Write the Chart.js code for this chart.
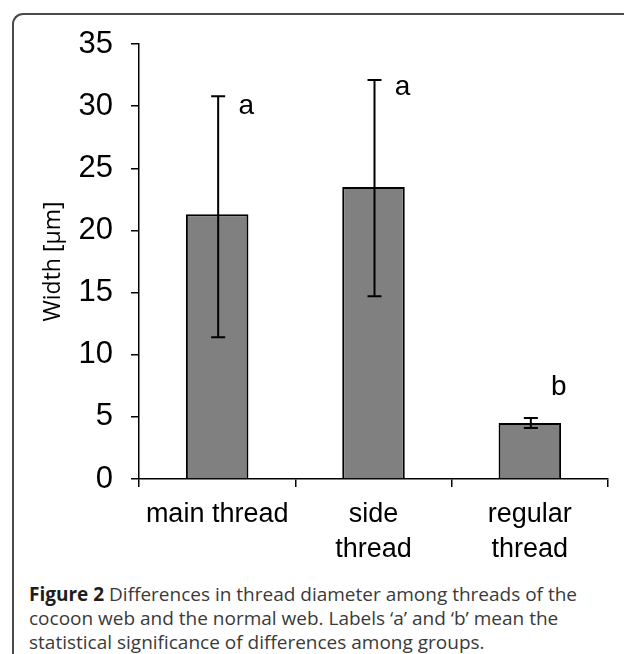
<!DOCTYPE html>
<html>
<head>
<meta charset="utf-8">
<script src="https://cdn.jsdelivr.net/npm/chart.js@4/dist/chart.umd.min.js"></script>
<style>
  html, body { margin: 0; padding: 0; background: #fff; width: 624px; height: 654px; overflow: hidden; }
  #frame { position: absolute; left: 12px; top: 13px; width: 700px; height: 700px;
           border-left: 2px solid #4a4a4a; border-top: 2px solid #4a4a4a; border-top-left-radius: 11px; }
  #wrap { position: absolute; left: 0; top: 0; width: 624px; height: 570px; }
  #cap { position: absolute; left: 29px; top: 582px; font-family: "Open Sans", sans-serif;
         font-size: 19px; line-height: 24px; color: #3a3a3a; white-space: nowrap; }
  #cap b { color: #1e1e1e; }
</style>
</head>
<body>
<div id="frame"></div>
<div id="wrap"><canvas id="c" width="624" height="570"></canvas></div>
<div id="cap"><b>Figure 2</b> Differences in thread diameter among threads of the<br>cocoon web and the normal web. Labels ‘a’ and ‘b’ mean the<br>statistical significance of differences among groups.</div>
<script>
// ---- data ----
const categories = ['main thread', ['side', 'thread'], ['regular', 'thread']];
const meanWidth = [21.3, 23.5, 4.5];
const errLow = [11.4, 14.7, 4.1];
const errHigh = [30.8, 32.1, 4.9];
const sigLetters = ['a', 'a', 'b'];
const letterY = [30.0, 31.5, 7.4];
const yMin = 0, yMax = 35, yStep = 5;
const yTitle = 'Width [\u03bcm]';

const FONT = '"Liberation Sans", Arial, sans-serif';

const errorBarPlugin = {
  id: 'errorBars',
  afterDatasetsDraw(chart) {
    const ctx = chart.ctx, xs = chart.scales.x, ys = chart.scales.y;
    ctx.save();
    ctx.strokeStyle = '#000';
    ctx.lineWidth = 2;
    for (let i = 0; i < meanWidth.length; i++) {
      const x = xs.getPixelForValue(i) + 1;
      const yl = ys.getPixelForValue(errLow[i]);
      const yh = ys.getPixelForValue(errHigh[i]);
      ctx.beginPath();
      ctx.moveTo(x, yl); ctx.lineTo(x, yh);
      ctx.moveTo(x - 7, yl); ctx.lineTo(x + 7, yl);
      ctx.moveTo(x - 7, yh); ctx.lineTo(x + 7, yh);
      ctx.stroke();
    }
    ctx.fillStyle = '#000';
    ctx.font = '28px ' + FONT;
    ctx.textAlign = 'center';
    ctx.textBaseline = 'middle';
    for (let i = 0; i < sigLetters.length; i++) {
      const x = xs.getPixelForValue(i) + 29;
      const y = ys.getPixelForValue(letterY[i]);
      ctx.fillText(sigLetters[i], x, y);
    }
    ctx.restore();
  }
};

new Chart(document.getElementById('c'), {
  type: 'bar',
  data: {
    labels: categories,
    datasets: [{
      data: meanWidth,
      backgroundColor: '#808080',
      borderColor: '#000',
      borderWidth: 2,
      borderSkipped: 'bottom',
      categoryPercentage: 1.0,
      barPercentage: 0.4
    }]
  },
  options: {
    responsive: false,
    animation: false,
    devicePixelRatio: 1,
    layout: { padding: { left: 0, top: 44, right: 16, bottom: 0 } },
    plugins: { legend: { display: false }, tooltip: { enabled: false } },
    scales: {
      x: {
        grid: { display: true, drawOnChartArea: false, drawTicks: true, tickLength: 8, color: '#000', lineWidth: 1.5, offset: true },
        border: { display: true, color: '#000', width: 1.5 },
        ticks: { color: '#000', padding: 10, maxRotation: 0, autoSkip: false,
                  font: { family: FONT, size: 27, lineHeight: 1.3 } },
        afterFit(scale) { scale.height = 91; }
      },
      y: {
        min: yMin, max: yMax,
        grid: { display: true, drawOnChartArea: false, drawTicks: true, tickLength: 8, color: '#000', lineWidth: 1.5 },
        border: { display: true, color: '#000', width: 1.5 },
        ticks: { stepSize: yStep, color: '#000', padding: 18,
                 font: { family: FONT, size: 31 } },
        title: { display: true, text: yTitle, color: '#000',
                 font: { family: '"Open Sans", sans-serif', size: 23 }, padding: { top: 40, bottom: 0 } },
        afterFit(scale) { scale.width = 139; }
      }
    }
  },
  plugins: [errorBarPlugin]
});
</script>
</body>
</html>
